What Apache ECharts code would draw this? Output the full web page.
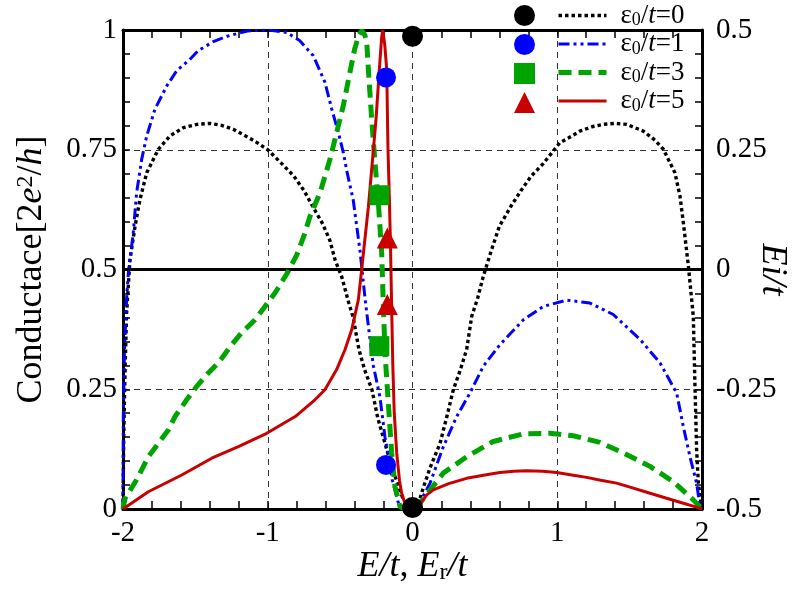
<!DOCTYPE html>
<html><head><meta charset="utf-8">
<script src="https://cdn.jsdelivr.net/npm/echarts@6/dist/echarts.min.js"></script>
<style>html,body{margin:0;padding:0;background:#fff}#c{width:812px;height:589px}</style>
</head><body><div id="c"></div>
<script>
// ---- data ----
const xRange = [-2, 2];            // E/t, Er/t
const yLeftRange = [0, 1];         // Conductance [2e^2/h]
const yRightRange = [-0.5, 0.5];   // Ei/t
const epsValues = ['0', '1', '3', '5'];

// Conductance curves: [E/t, G]
const curveEps0 = [[-2.0,0],[-1.995,0.15],[-1.985,0.30],[-1.975,0.41],[-1.952,0.52],[-1.917,0.59],[-1.883,0.646],[-1.836,0.702],[-1.756,0.751],[-1.675,0.779],[-1.583,0.796],[-1.49,0.803],[-1.40,0.805],[-1.32,0.801],[-1.24,0.793],[-1.16,0.78],[-1.08,0.766],[-1.0,0.75],[-0.90,0.72],[-0.82,0.695],[-0.75,0.665],[-0.69,0.632],[-0.62,0.595],[-0.57,0.56],[-0.535,0.52],[-0.49,0.486],[-0.44,0.43],[-0.41,0.40],[-0.37,0.333],[-0.33,0.29],[-0.28,0.249],[-0.24,0.19],[-0.19,0.137],[-0.14,0.085],[-0.10,0.05],[-0.07,0.025],[-0.04,0.008],[0,0],
  [0.04,0.01],[0.075,0.045],[0.12,0.085],[0.19,0.137],[0.235,0.19],[0.282,0.249],[0.33,0.29],[0.374,0.333],[0.409,0.402],[0.45,0.44],[0.489,0.486],[0.547,0.542],[0.6,0.59],[0.68,0.632],[0.75,0.665],[0.82,0.695],[0.9,0.72],[1.019,0.765],[1.08,0.775],[1.157,0.789],[1.24,0.798],[1.318,0.803],[1.40,0.805],[1.48,0.803],[1.594,0.789],[1.675,0.77],[1.733,0.751],[1.813,0.702],[1.848,0.653],[1.871,0.598],[1.906,0.507],[1.94,0.402],[1.952,0.249],[1.963,0.123],[1.975,0.054],[1.99,0.02],[2.0,0]];

const curveEps1 = [[-2.0,0],[-1.998,0.19],[-1.99,0.33],[-1.975,0.44],[-1.963,0.493],[-1.929,0.577],[-1.906,0.66],[-1.871,0.73],[-1.836,0.779],[-1.779,0.835],[-1.698,0.883],[-1.629,0.915],[-1.537,0.939],[-1.48,0.957],[-1.38,0.975],[-1.28,0.987],[-1.14,0.998],[-1.0,1.0],[-0.87,0.995],[-0.78,0.978],[-0.685,0.946],[-0.605,0.891],[-0.558,0.835],[-0.512,0.786],[-0.478,0.744],[-0.45,0.70],[-0.41,0.646],[-0.363,0.54],[-0.328,0.44],[-0.30,0.37],[-0.271,0.30],[-0.225,0.234],[-0.19,0.15],[-0.14,0.061],[-0.10,0.015],[-0.07,0.002],[0.0,0],
  [0.03,0.005],[0.08,0.03],[0.121,0.054],[0.213,0.13],[0.305,0.193],[0.397,0.242],[0.489,0.298],[0.604,0.343],[0.766,0.395],[0.904,0.423],[1.065,0.436],[1.226,0.43],[1.387,0.406],[1.572,0.354],[1.71,0.305],[1.825,0.242],[1.871,0.172],[1.917,0.109],[1.963,0.054],[1.986,0.005],[2.0,0]];

const curveEps3 = [[-2.0,0],[-1.986,0.022],[-1.906,0.061],[-1.825,0.109],[-1.756,0.137],[-1.687,0.165],[-1.641,0.193],[-1.56,0.228],[-1.491,0.256],[-1.41,0.284],[-1.341,0.305],[-1.249,0.343],[-1.18,0.368],[-1.088,0.395],[-1.019,0.423],[-0.95,0.451],[-0.87,0.49],[-0.80,0.53],[-0.75,0.57],[-0.708,0.611],[-0.639,0.66],[-0.57,0.73],[-0.524,0.786],[-0.478,0.842],[-0.432,0.912],[-0.40,0.96],[-0.37,0.99],[-0.35,0.999],[-0.33,0.99],[-0.316,0.975],[-0.305,0.918],[-0.282,0.814],[-0.259,0.723],[-0.236,0.64],[-0.213,0.535],[-0.202,0.43],[-0.19,0.326],[-0.167,0.221],[-0.144,0.117],[-0.121,0.047],[-0.086,0.005],[-0.05,0],
  [0.02,0],[0.086,0.026],[0.213,0.075],[0.374,0.109],[0.558,0.141],[0.766,0.157],[0.95,0.158],[1.111,0.153],[1.295,0.139],[1.456,0.117],[1.641,0.089],[1.802,0.057],[1.94,0.019],[2.0,0]];

const curveEps5 = [[-2,0],[-1.825,0.036],[-1.594,0.071],[-1.387,0.106],[-1.203,0.13],[-1.007,0.158],[-0.81,0.193],[-0.674,0.228],[-0.605,0.249],[-0.524,0.291],[-0.466,0.333],[-0.42,0.374],[-0.374,0.437],[-0.351,0.5],[-0.33,0.56],[-0.305,0.63],[-0.282,0.709],[-0.252,0.814],[-0.229,0.918],[-0.213,0.985],[-0.205,1.0],[-0.192,0.97],[-0.178,0.918],[-0.17,0.76],[-0.16,0.65],[-0.152,0.55],[-0.144,0.42],[-0.136,0.3],[-0.126,0.2],[-0.109,0.117],[-0.09,0.06],[-0.075,0.033],[-0.05,0.01],[-0.03,0.002],[0,0],
  [0.03,0.003],[0.063,0.015],[0.1,0.03],[0.144,0.04],[0.25,0.053],[0.374,0.064],[0.5,0.071],[0.604,0.076],[0.7,0.079],[0.789,0.08],[0.9,0.079],[0.996,0.076],[1.1,0.071],[1.203,0.066],[1.3,0.06],[1.41,0.054],[1.52,0.044],[1.641,0.033],[1.75,0.023],[1.871,0.012],[1.95,0.005],[2,0]];

// Poles (Er/t, Ei/t) on the right axis
const polesEps0 = [[0, 0.487], [0, -0.497]];
const polesEps1 = [[-0.183, 0.401], [-0.183, -0.408]];
const polesEps3 = [[-0.229, 0.155], [-0.229, -0.16]];
const polesEps5 = [[-0.174, 0.066], [-0.174, -0.073]];

// ---- styles ----
const FONT = 'Liberation Serif';
const colors = ['#000000', '#0000ff', '#00a400', '#c80000'];
const lineWidths = [3.4, 3, 5, 3];
const lineTypes = [[3.5, 3], [11, 4, 3, 4, 3, 4], [13, 7], 'solid'];
const markerShapes = ['circle', 'circle', 'rect', 'triangle'];
const markerSizes = [21, 20, 20, 21];

const curves = [curveEps0, curveEps1, curveEps3, curveEps5];
const poles = [polesEps0, polesEps1, polesEps3, polesEps5];
const curveNames = epsValues.map(v => 'ε0/t=' + v);
const poleNames = epsValues.map(v => 'pole ε0/t=' + v);

const tickStyle = {color: '#000', width: 1.5};
function xAxisBase(pos) {
  return {
    type: 'value', min: xRange[0], max: xRange[1], interval: 1, position: pos,
    axisLine: {show: true, onZero: false, lineStyle: {color: '#000', width: 3}},
    axisTick: {show: true, inside: true, length: 8, lineStyle: tickStyle},
    minorTick: {show: true, splitNumber: 5, length: 8, lineStyle: tickStyle},
  };
}
function yAxisBase(r, pos) {
  return {
    type: 'value', min: r[0], max: r[1], interval: 0.25, position: pos,
    axisLine: {show: true, onZero: false, lineStyle: {color: '#000', width: 3}},
    axisTick: {show: true, inside: true, length: 7, lineStyle: tickStyle},
    minorTick: {show: true, splitNumber: 5, length: 7, lineStyle: tickStyle},
  };
}
const labelStyle = {fontFamily: FONT, fontSize: 29, color: '#000'};
const titleRich = {
  n: {fontFamily: FONT, fontSize: 36, color: '#000'},
  i: {fontFamily: FONT, fontSize: 36, fontStyle: 'italic', color: '#000'},
  sub: {fontFamily: FONT, fontSize: 24, color: '#000', verticalAlign: 'bottom', lineHeight: 20},
  sup: {fontFamily: FONT, fontSize: 24, color: '#000', verticalAlign: 'top', lineHeight: 16}
};
const splitDash = {show: true, lineStyle: {color: '#333', type: [6, 5], width: 1}};

const series = [];
series.push({
  name: 'zero line', type: 'line', xAxisIndex: 0, yAxisIndex: 1, data: [], z: 1, silent: true,
  markLine: {silent: true, symbol: ['none', 'none'], label: {show: false},
    lineStyle: {color: '#000', type: 'solid', width: 3}, data: [{yAxis: 0}]}
});
curves.forEach((c, k) => series.push({
  name: curveNames[k], type: 'line', xAxisIndex: 0, yAxisIndex: 0, data: c,
  symbol: 'circle', symbolSize: 0, showSymbol: false, z: 3 + k,
  lineStyle: {color: colors[k], width: lineWidths[k], type: lineTypes[k]},
  itemStyle: {color: colors[k]}
}));
poles.forEach((p, k) => series.push({
  name: poleNames[k], type: 'scatter', xAxisIndex: 0, yAxisIndex: 1, data: p,
  symbol: markerShapes[k], symbolSize: markerSizes[k], clip: false, z: 10,
  itemStyle: {color: colors[k], opacity: 1}
}));

const legRich = {
  a: {fontFamily: FONT, fontSize: 27, color: '#000', lineHeight: 28},
  i: {fontFamily: FONT, fontSize: 27, fontStyle: 'italic', color: '#000', lineHeight: 28},
  s: {fontFamily: FONT, fontSize: 18, color: '#000', verticalAlign: 'bottom', lineHeight: 14}
};

const option = {
  backgroundColor: '#fff',
  animation: false,
  grid: {left: 123, right: 110, top: 30, bottom: 80, containLabel: false, outerBoundsMode: 'none'},
  legend: [
    {data: poleNames, orient: 'vertical', left: 514, top: 5, padding: 0,
     itemWidth: 21, itemHeight: 21, itemGap: 8, selectedMode: false,
     formatter: () => '', textStyle: {fontSize: 1}},
    {data: curveNames, orient: 'vertical', left: 556, top: 2, padding: 0,
     itemWidth: 48, itemHeight: 20, itemGap: 1, selectedMode: false,
     itemStyle: {color: 'rgba(0,0,0,0)', borderWidth: 0, opacity: 0},
     lineStyle: {width: 'inherit', type: 'inherit', color: 'inherit'},
     formatter: name => '{a|ε}{s|0}{a|/}{i|t}{a|=' + name.split('=')[1] + '}',
     textStyle: {rich: legRich, padding: [0, 0, 0, 9]}}
  ],
  xAxis: [
    Object.assign(xAxisBase('bottom'), {
      axisLabel: Object.assign({margin: 10}, labelStyle),
      splitLine: splitDash,
      name: '{i|E}{i|/t}{n|, }{i|E}{sub|r}{i|/t}', nameLocation: 'middle', nameGap: 40,
      nameMoveOverlap: false,
      nameTextStyle: {rich: titleRich}
    }),
    Object.assign(xAxisBase('top'), {axisLabel: {show: false}, splitLine: {show: false}})
  ],
  yAxis: [
    Object.assign(yAxisBase(yLeftRange, 'left'), {
      axisLabel: Object.assign({margin: 6}, labelStyle),
      splitLine: splitDash,
      name: '{n|Conductace[2}{i|e}{sup|2}{n|/}{i|h}{n|]}', nameLocation: 'middle', nameGap: 73, nameRotate: 90,
      nameMoveOverlap: false,
      nameTextStyle: {rich: titleRich}
    }),
    Object.assign(yAxisBase(yRightRange, 'right'), {
      axisLabel: Object.assign({margin: 14}, labelStyle),
      splitLine: {show: false},
      name: '{i|Ei/t}', nameLocation: 'middle', nameGap: 52, nameRotate: -90,
      nameMoveOverlap: false,
      nameTextStyle: {rich: titleRich}
    })
  ],
  series: series
};
const chart = echarts.init(document.getElementById('c'), null, {renderer: 'canvas'});
chart.setOption(option);
</script></body></html>
